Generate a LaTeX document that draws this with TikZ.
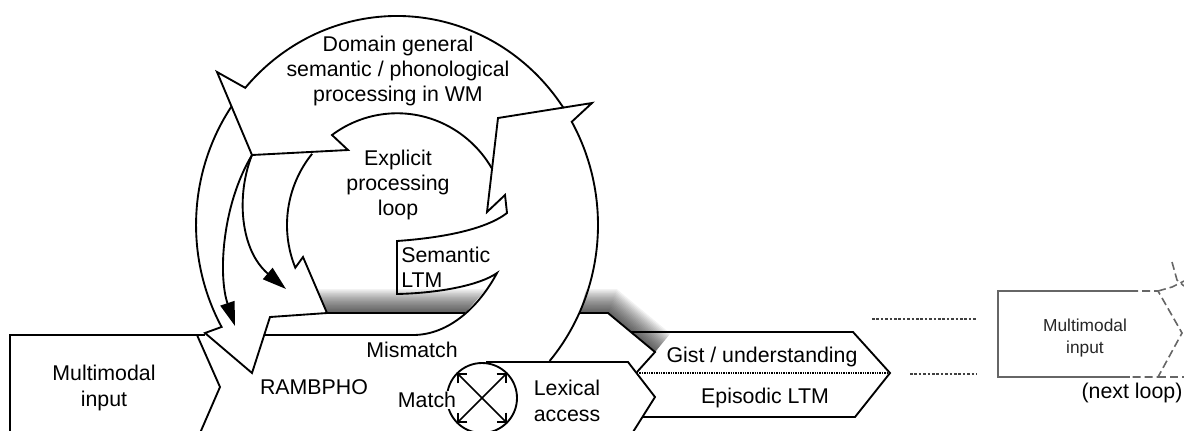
\documentclass[tikz,border=0pt]{standalone}
\usepackage{fontspec}
\setmainfont{Liberation Sans}
\usetikzlibrary{arrows.meta}

\begin{document}
\begin{tikzpicture}[
    x=0.75pt, y=-0.75pt,
    every node/.style={font=\fontsize{16}{19}\selectfont, align=center, inner sep=0pt},
    outline/.style={draw, line width=1.4pt, line join=miter},
    thinarrow/.style={line width=1.4pt, -{Triangle[length=18pt, width=11pt]}},
    matcharrow/.style={line width=1.1pt, {Straight Barb[angle=90:7pt]}-{Straight Barb[angle=90:7pt]}},
    ring/.style={circle, draw, line width=1.4pt, minimum size=52.5pt, outer sep=0pt},
    guide/.style={line width=1.1pt, black!75, dash pattern=on 2pt off 1.3pt},
    divider/.style={line width=1pt, dash pattern=on 1pt off 0.8pt},
    nextbox/.style={line width=1.2pt, black!60},
    nextdash/.style={nextbox, dash pattern=on 6pt off 3pt},
    shadowline/.style={black, opacity=0.05},
]
\useasboundingbox (0,0) rectangle (1184,430);
\clip (0,0) rectangle (1184,430);

% Shadow of the RAMBPHO band
\begin{scope}
  \clip (314,285) -- (327,313) -- (465,313) -- (490,285) -- cycle
        (588,282) -- (580,313) -- (608,313) -- (655,352) -- (700,352) -- (700,282) -- cycle;
  \foreach \w in {2,4,...,36}
    \draw[shadowline, line width=\w*1pt] (300,313) -- (608,313) -- (655,352);
\end{scope}

% Loops
\draw[outline] (563.6,108.1) arc (-34:-139:201 and 209) -- (217,72) -- (252,155)
    -- (348,150) -- (332,135) arc (-126.3:-30.5:110 and 112);
\draw[outline] (231.6,106.3) arc (214.6:150.8:201 and 209) -- (205,333) -- (252,373)
    -- (270,317) -- (327,313) -- (303,257) -- (295.3,267.7) arc (157.6:219.5:110 and 112);
\draw[outline] (549.6,361) arc (40.6:-29.6:201 and 209) -- (592,103) -- (498,118)
    -- (487,212) -- (505,195) -- (507,213)
    .. controls (485,230) and (440,238) .. (397,241) -- (397,294)
    .. controls (440,293) and (480,285) .. (497,273)
    .. controls (480,305) and (450,335) .. (413,335) -- (264,335);

% Bands
\draw[outline] (327,313) -- (465,313);
\draw[outline] (579,313) -- (608,313) -- (655,352) -- (637,372);
\draw[outline] (205,335) -- (10,335) -- (10,440);
\draw[outline] (197,335) -- (220,387) -- (197,440);
\draw[outline] (486,362) -- (628,362) -- (655,397) -- (633,432);
\draw[outline] (631,332) -- (853,332) -- (890,373) -- (855,417) -- (642,417);
\draw[divider] (637,373) -- (890,373);

% Next loop
\draw[guide] (872,319) -- (977,319);
\draw[guide] (910,374) -- (977,374);
\draw[nextbox] (1130,291) -- (998,291) -- (998,377) -- (1130,377);
\draw[nextdash] (1130,291) -- (1158,291) -- (1182,333) -- (1158,377) -- (1130,377);
\draw[nextdash] (1158,377) -- (1184,377);
\draw[nextdash] (1158,291) -- (1172,287) -- (1184,281);
\draw[nextdash] (1172,262) -- (1177,280) -- (1184,286);

% Nodes
\node (dg) at (398,71) {Domain general\\semantic / phonological\\processing in WM};
\node (explicit) at (398,185) {Explicit\\processing\\loop};
\node (semltm) [anchor=west, align=left] at (401,267) {Semantic\\LTM};
\node (mismatch) at (412,350) {Mismatch};
\node (rambpho) at (314,387) {RAMBPHO};
\node (matchring) [ring] at (482,398) {};
\node (match) [fill=white, inner sep=1pt] at (427,400) {Match};
\node (lexical) at (567,401) {Lexical\\access};
\node (gist) at (762,357) {Gist / understanding};
\node (episodic) at (765,398) {Episodic LTM};
\node (mminput) at (104,388) {Multimodal\\input};
\node (nextinput) [font=\fontsize{13}{16}\selectfont, black!85] at (1085,338) {Multimodal\\input};
\node (nextloop) at (1132,393) {(next loop)};

\coordinate (dgtip) at (252,155);
\coordinate (rambphoa) at (235,326);
\coordinate (rambphob) at (286,289);

% Arrows
\draw[thinarrow] (dgtip) .. controls (222,205) and (218,275) .. (rambphoa);
\draw[thinarrow] (dgtip) .. controls (236,195) and (240,250) .. (rambphob);
\draw[matcharrow] (matchring.north west) -- (matchring.south east);
\draw[matcharrow] (matchring.north east) -- (matchring.south west);

\end{tikzpicture}
\end{document}
